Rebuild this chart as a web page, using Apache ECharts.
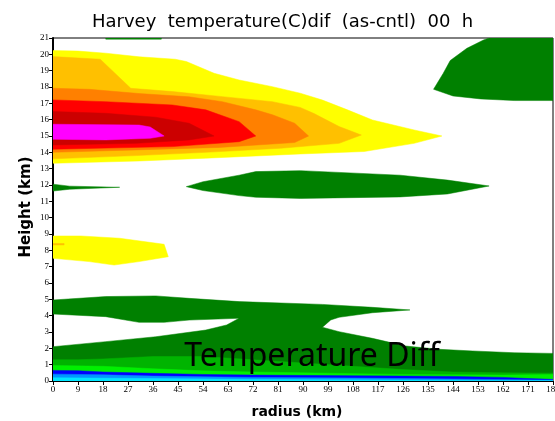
<!DOCTYPE html>
<html>
<head>
<meta charset="utf-8">
<script src="https://cdn.jsdelivr.net/npm/echarts@6/dist/echarts.min.js"></script>
<style>
  html, body { margin: 0; padding: 0; background: #fff; }
  #chart { width: 555px; height: 421px; }
</style>
</head>
<body>
<div id="chart"></div>
<script>
// axis ranges (km)
const radiusMax = 180;
const radiusStep = 9;
const heightMax = 21;
const heightStep = 1;

// contour regions, [radius km, height km] outline points
// warm upper band (drawn outer to inner)
const yellowTop = [[0,13.33],[0,20.23],[9,20.2],[19,20.07],[31,19.85],[44,19.7],[48,19.56],[58,18.84],[67,18.43],[79,18.02],[89,17.62],[97,17.2],[106,16.6],[115,15.98],[130,15.37],[140,15.0],[130,14.55],[112,14.05],[89,13.9],[55,13.64],[31,13.47]];
const lightOrange = [[0,13.6],[0,19.86],[17,19.7],[28,17.92],[43,17.72],[61,17.41],[79,17.1],[89,16.75],[94,16.37],[103,15.58],[111,15.06],[103,14.55],[82,14.25],[55,14.0],[30,13.8]];
const orange = [[0,14.0],[0,17.92],[13,17.86],[31,17.6],[49,17.4],[61,17.1],[73,16.6],[79,16.3],[87,15.78],[92,15.0],[87,14.6],[60,14.3],[30,14.15]];
const red = [[0,14.19],[0,17.21],[19,17.1],[43,16.9],[55,16.6],[67,15.88],[73,15.0],[67,14.65],[43,14.35]];
const darkRed = [[0,14.45],[0,16.5],[19,16.39],[37,16.15],[49,15.78],[58,15.0],[49,14.76],[30,14.55]];
const magenta = [[0,14.8],[0,15.72],[31,15.67],[35,15.55],[40,15.0],[35,14.86],[19,14.76]];
const yellowMid = [[0,7.51],[0,8.88],[10,8.88],[24,8.74],[40,8.37],[41.5,7.61],[31,7.31],[22,7.1],[13,7.31]];
const orangeSpeck = [[0,8.33],[0,8.42],[4,8.42],[4,8.33]];

// cool regions
const greenTopSliver = [[19,20.93],[19,21],[39,21],[39,20.93]];
const greenTopRight = [[137,17.86],[140.5,18.84],[143,19.62],[149,20.37],[155,20.88],[157,21],[180,21],[180,17.17],[166,17.17],[154,17.27],[144,17.45]];
const greenMidLeft = [[0,11.63],[0,12.05],[6,11.93],[24,11.86],[6,11.74]];
const greenMidRight = [[48,11.9],[54,12.2],[67,12.6],[73,12.82],[89,12.88],[125,12.6],[142,12.3],[157,11.94],[142,11.45],[125,11.27],[89,11.18],[73,11.25],[67,11.35],[54,11.66]];
const greenLow = [[0,0],[0,2.1],[19,2.41],[37,2.71],[55,3.12],[62.5,3.43],[67,3.84],[49,3.73],[40,3.59],[31,3.59],[19,3.94],[0,4.1],[0,4.96],[19,5.17],[37,5.21],[49,5.06],[67,4.86],[97,4.69],[115,4.51],[128.5,4.35],[115,4.18],[103,3.9],[100,3.74],[97,3.29],[103,3.02],[115,2.61],[127,2.14],[139,1.94],[151,1.84],[166,1.73],[180,1.69],[180,0]];
const medGreenTop = [[0,1.3],[9,1.3],[18,1.35],[36,1.5],[54,1.5],[72,1.3],[90,1.1],[108,0.9],[126,0.7],[144,0.55],[162,0.5],[180,0.48]];
const brightGreenTop = [[0,0.95],[18,0.9],[36,0.75],[54,0.62],[72,0.55],[90,0.5],[108,0.45],[126,0.4],[144,0.38],[162,0.36],[171,0.38],[180,0.4]];
const blueTop = [[0,0.65],[9,0.63],[18,0.55],[36,0.47],[54,0.4],[72,0.36],[108,0.32],[126,0.3],[144,0.28],[162,0.22],[171,0.15],[180,0.1]];
const midBlueTop = [[0,0.42],[18,0.38],[36,0.3],[72,0.22],[108,0.18],[144,0.12],[180,0.05]];
const cyanTop = [[0,0.2],[36,0.15],[72,0.1],[126,0.06],[162,0.02],[180,0.01]];

// close a top curve down to the ground
function band(top) {
  return [[top[0][0], 0]].concat(top, [[top[top.length - 1][0], 0]]);
}

const layers = [
  [yellowTop, '#ffff00'],
  [lightOrange, '#ffc000'],
  [orange, '#ff8000'],
  [red, '#ff0000'],
  [darkRed, '#cc0000'],
  [magenta, '#ff00ff'],
  [yellowMid, '#ffff00'],
  [orangeSpeck, '#ffc000'],
  [greenTopSliver, '#008000'],
  [greenTopRight, '#008000'],
  [greenMidLeft, '#008000'],
  [greenMidRight, '#008000'],
  [greenLow, '#008000'],
  [band(medGreenTop), '#00b400'],
  [band(brightGreenTop), '#00f000'],
  [band(blueTop), '#0000ff'],
  [band(midBlueTop), '#0096ff'],
  [band(cyanTop), '#00e6ff'],
];

function polySeries(points, color) {
  return {
    type: 'custom',
    coordinateSystem: 'cartesian2d',
    silent: true,
    clip: true,
    data: [[0, 0]],
    renderItem: function (params, api) {
      return {
        type: 'polygon',
        shape: { points: points.map(p => api.coord(p)) },
        style: { fill: color, stroke: color, lineWidth: 0.5 }
      };
    }
  };
}

const chart = echarts.init(document.getElementById('chart'));
const tickFont = { fontSize: 9, color: '#000', fontFamily: 'Liberation Sans Narrow' };

chart.setOption({
  animation: false,
  title: {
    text: 'Harvey  temperature(C)dif  (as-cntl)  00  h',
    left: 87,
    top: 8,
    textStyle: { fontSize: 18, fontWeight: 'normal', color: '#000', fontFamily: 'DejaVu Sans' }
  },
  grid: {
    left: 53, right: 2, top: 38, bottom: 40,
    outerBoundsMode: 'none',
    show: true, borderColor: '#000', borderWidth: 1, backgroundColor: '#fff'
  },
  xAxis: {
    type: 'value',
    min: 0, max: radiusMax, interval: radiusStep,
    splitLine: { show: false },
    axisLine: { lineStyle: { color: '#000', width: 1 } },
    axisTick: { length: 4, lineStyle: { color: '#000' } },
    axisLabel: Object.assign({ margin: 4 }, tickFont)
  },
  yAxis: {
    type: 'value',
    min: 0, max: heightMax, interval: heightStep,
    splitLine: { show: false },
    axisLine: { lineStyle: { color: '#000', width: 2 } },
    axisTick: { length: 4, lineStyle: { color: '#000' } },
    axisLabel: Object.assign({ margin: 4 }, tickFont)
  },
  graphic: [
    {
      type: 'text', x: 26, y: 207, rotation: Math.PI / 2,
      style: { text: 'Height (km)', fontSize: 15, fontWeight: 'bold', fontFamily: 'DejaVu Sans', fill: '#000', align: 'center', verticalAlign: 'middle' }
    },
    {
      type: 'text', x: 297, y: 412,
      style: { text: 'radius (km)', fontSize: 14, fontWeight: 'bold', fontFamily: 'DejaVu Sans', fill: '#000', align: 'center', verticalAlign: 'middle' }
    },
    {
      type: 'text', x: 312, y: 357, z: 100,
      style: { text: 'Temperature Diff', fontSize: 32, fontFamily: 'Noto Sans', fill: '#000', align: 'center', verticalAlign: 'middle' }
    }
  ],
  series: layers.map(l => polySeries(l[0], l[1]))
});
</script>
</body>
</html>
